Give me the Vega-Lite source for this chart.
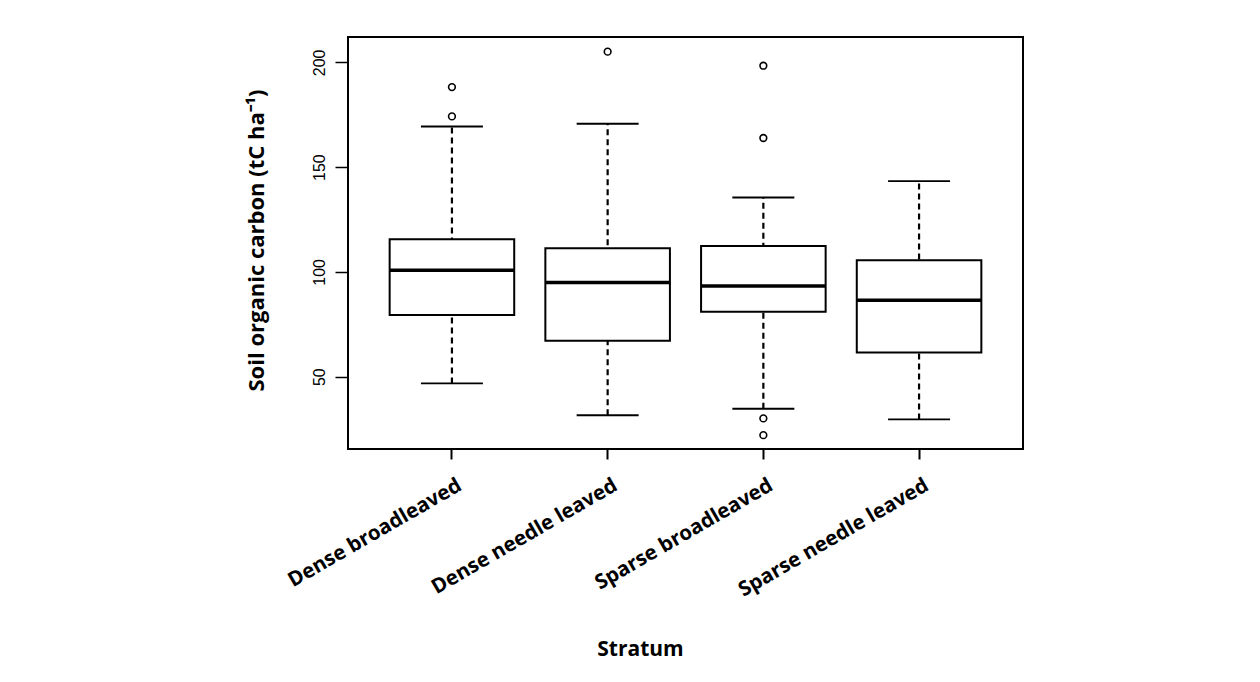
{
  "$schema": "https://vega.github.io/schema/vega-lite/v6.json",
  "width": 675,
  "height": 412,
  "autosize": {"type": "none"},
  "padding": {"left": 348, "top": 37, "right": 237, "bottom": 233},
  "background": "white",
  "config": {
    "view": {"stroke": "black", "strokeWidth": 2},
    "font": "Open Sans"
  },
  "datasets": {
    "stats": [
      {"stratum": "Dense broadleaved", "lower": 46.8, "q1": 79.5, "median": 100.8, "q3": 115.6, "upper": 169.4},
      {"stratum": "Dense needle leaved", "lower": 31.6, "q1": 67.2, "median": 94.9, "q3": 111.3, "upper": 170.7},
      {"stratum": "Sparse broadleaved", "lower": 34.7, "q1": 81.0, "median": 93.3, "q3": 112.4, "upper": 135.5},
      {"stratum": "Sparse needle leaved", "lower": 29.6, "q1": 61.5, "median": 86.5, "q3": 105.6, "upper": 143.3}
    ],
    "outliers": [
      {"stratum": "Dense broadleaved", "value": 188.2},
      {"stratum": "Dense broadleaved", "value": 174.2},
      {"stratum": "Dense needle leaved", "value": 205.1},
      {"stratum": "Sparse broadleaved", "value": 198.4},
      {"stratum": "Sparse broadleaved", "value": 163.9},
      {"stratum": "Sparse broadleaved", "value": 30.1},
      {"stratum": "Sparse broadleaved", "value": 22.1}
    ]
  },
  "encoding": {
    "x": {
      "field": "stratum",
      "type": "nominal",
      "sort": null,
      "scale": {"paddingInner": 0.2, "paddingOuter": 0.2675},
      "axis": {
        "title": "Stratum",
        "titleFont": "Open Sans",
        "titleFontSize": 21,
        "titleFontWeight": "bold",
        "titleColor": "black",
        "titleX": 292,
        "titleY": 206,
        "titleAlign": "center",
        "titleBaseline": "alphabetic",
        "labelAngle": -30,
        "labelAlign": "right",
        "labelBaseline": "top",
        "labelFont": "Open Sans",
        "labelFontSize": 20.5,
        "labelFontWeight": "bold",
        "labelColor": "black",
        "labelLimit": 0,
        "labelPadding": 16,
        "labelOffset": 3,
        "domain": false,
        "ticks": true,
        "tickSize": 10,
        "tickWidth": 2,
        "tickColor": "black",
        "grid": false
      }
    }
  },
  "layer": [
    {
      "data": {"name": "stats"},
      "mark": {"type": "rule", "strokeDash": [6, 4], "strokeWidth": 2.2, "color": "black"},
      "encoding": {
        "y": {
          "field": "lower",
          "type": "quantitative",
          "scale": {"domain": [15.5, 212.1], "nice": false, "zero": false},
          "axis": {
            "title": "Soil organic carbon (tC ha⁻¹)",
            "titleFont": "Open Sans",
            "titleFontSize": 22,
            "titleFontWeight": "bold",
            "titleColor": "black",
            "titleAngle": -90,
            "titleX": -92,
            "titleY": 203,
            "titleAlign": "center",
            "titleBaseline": "middle",
            "values": [50, 100, 150, 200],
            "labelAngle": -90,
            "labelAlign": "center",
            "labelBaseline": "bottom",
            "labelFont": "Liberation Sans",
            "labelFontSize": 16,
            "labelColor": "black",
            "labelPadding": 8,
            "domain": false,
            "tickSize": 13,
            "tickWidth": 1.5,
            "tickColor": "black",
            "grid": false
          }
        },
        "y2": {"field": "upper"}
      }
    },
    {
      "data": {"name": "stats"},
      "mark": {"type": "bar", "fill": "white", "stroke": "black", "strokeWidth": 2},
      "encoding": {
        "y": {"field": "q1", "type": "quantitative"},
        "y2": {"field": "q3"}
      }
    },
    {
      "data": {"name": "stats"},
      "mark": {"type": "tick", "orient": "horizontal", "color": "black", "size": 124, "thickness": 3.5, "opacity": 1},
      "encoding": {
        "y": {"field": "median", "type": "quantitative"}
      }
    },
    {
      "data": {"name": "stats"},
      "mark": {"type": "tick", "orient": "horizontal", "color": "black", "size": 62, "thickness": 1.8, "opacity": 1},
      "encoding": {
        "y": {"field": "upper", "type": "quantitative"}
      }
    },
    {
      "data": {"name": "stats"},
      "mark": {"type": "tick", "orient": "horizontal", "color": "black", "size": 62, "thickness": 1.8, "opacity": 1},
      "encoding": {
        "y": {"field": "lower", "type": "quantitative"}
      }
    },
    {
      "data": {"name": "outliers"},
      "mark": {"type": "point", "shape": "circle", "filled": false, "stroke": "black", "strokeWidth": 1.6, "size": 45, "opacity": 1},
      "encoding": {
        "y": {"field": "value", "type": "quantitative"}
      }
    }
  ]
}
